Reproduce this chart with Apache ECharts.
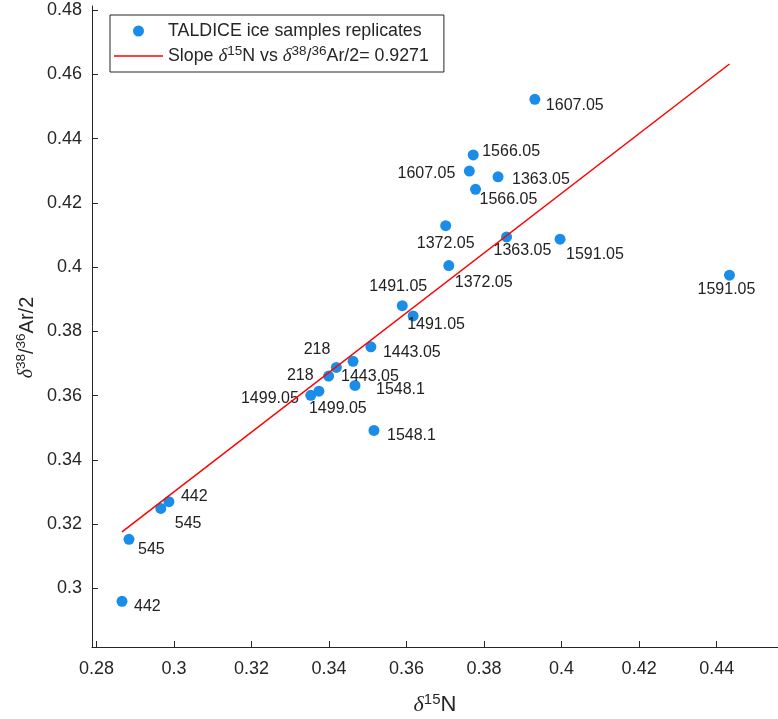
<!DOCTYPE html>
<html>
<head>
<meta charset="utf-8">
<style>
  html, body { margin: 0; padding: 0; background: #fff; }
  #chart { width: 778px; height: 719px; }
</style>
<script src="https://cdn.jsdelivr.net/npm/echarts@6/dist/echarts.min.js"></script>
</head>
<body>
<div id="chart"></div>
<script>
// ---- data ----
const sampleNames = ['1607.05','1566.05','1607.05','1363.05','1566.05','1372.05','1363.05','1591.05',
  '1372.05','1591.05','1491.05','1491.05','1443.05','1443.05','218','218','1548.1','1499.05',
  '1499.05','1548.1','442','545','545','442'];
const d15N = [0.3931,0.3772,0.3762,0.3836,0.3778,0.3701,0.3858,0.3996,
  0.3709,0.4433,0.3589,0.3617,0.3508,0.3462,0.3419,0.3399,0.3467,0.3374,
  0.3353,0.3516,0.2987,0.2966,0.2884,0.2866];
const d38Ar = [0.4522,0.4349,0.4299,0.4281,0.4242,0.4129,0.4094,0.4087,
  0.4005,0.3975,0.3880,0.3848,0.3752,0.3707,0.3688,0.3661,0.3632,0.3614,
  0.3601,0.3492,0.3270,0.3249,0.3153,0.2960];
const fitX = [0.2866, 0.4433];
const fitY = [0.3176, 0.4632];
const xTicks = [0.28,0.30,0.32,0.34,0.36,0.38,0.40,0.42,0.44];
const yTicks = [0.30,0.32,0.34,0.36,0.38,0.40,0.42,0.44,0.46,0.48];

// ---- label layout (offset from point, px; alignment) ----
const labelLayout = [
  [11,6,'left'],[9,-3,'left'],[-14,3,'right'],[14,3,'left'],[4,10,'left'],[0,18,'center'],
  [-13,14,'left'],[6,15,'left'],[6,17,'left'],[-3,14,'center'],[-4,-19,'center'],[-6,9,'left'],
  [12,6,'left'],[-12,15,'left'],[-6,-18,'right'],[-15,0,'right'],[21,4,'left'],[-10,17,'left'],
  [-12,3,'right'],[13,5,'left'],[12,-5,'left'],[14,15,'left'],[9,10,'left'],[12,5,'left']
];

const INK = '#262626';
const FONT = '"Liberation Sans", Arial, Helvetica, sans-serif';
const SERIF = '"Liberation Serif", "DejaVu Serif", serif';
const fmt = v => String(+(+v).toFixed(2));

const scatterData = d15N.map((x, i) => ({
  value: [x, d38Ar[i]],
  name: sampleNames[i],
  label: {
    show: true,
    position: 'inside',
    offset: [labelLayout[i][0], labelLayout[i][1]],
    align: labelLayout[i][2],
    verticalAlign: 'middle',
    formatter: sampleNames[i]
  }
}));

const xNameRich = {
  d: { fontFamily: SERIF, fontStyle: 'italic', fontSize: 22, color: INK, lineHeight: 26 },
  s: { fontFamily: FONT, fontSize: 15, color: INK, verticalAlign: 'top', lineHeight: 14 },
  n: { fontFamily: FONT, fontSize: 22, color: INK, lineHeight: 26 }
};
const yNameRich = {
  d: { fontFamily: SERIF, fontStyle: 'italic', fontSize: 20, color: INK, lineHeight: 26 },
  s: { fontFamily: FONT, fontSize: 13.5, color: INK, verticalAlign: 'top', lineHeight: 14 },
  n: { fontFamily: FONT, fontSize: 20, color: INK, lineHeight: 26 }
};

const chart = echarts.init(document.getElementById('chart'), null, { renderer: 'canvas' });
chart.setOption({
  animation: false,
  backgroundColor: '#fff',
  textStyle: { fontFamily: FONT },
  grid: { left: 92, top: 6, right: 0, bottom: 72, containLabel: false, outerBoundsMode: 'none' },
  legend: {
    orient: 'vertical',
    left: 110, top: 15,
    padding: [4, 15, 4, 4],
    itemGap: 1,
    itemWidth: 49,
    itemHeight: 11,
    borderColor: INK, borderWidth: 1,
    backgroundColor: '#fff',
    data: [
      { name: 'TALDICE ice samples replicates', icon: 'circle' },
      { name: 'slope', icon: 'path://M0,0 L49,0 L49,1.4 L0,1.4 Z' }
    ],
    formatter: function (name) {
      if (name === 'slope') {
        return 'Slope {d|δ}{s|15}N vs {d|δ}{s|38}/{s|36}Ar/2= 0.9271';
      }
      return name;
    },
    textStyle: {
      fontFamily: FONT, fontSize: 17.8, color: INK, lineHeight: 24,
      rich: {
        d: { fontFamily: SERIF, fontStyle: 'italic', fontSize: 19, color: INK, lineHeight: 24 },
        s: { fontFamily: FONT, fontSize: 13.5, color: INK, verticalAlign: 'top', lineHeight: 12 }
      }
    }
  },
  xAxis: {
    type: 'value',
    min: 0.27886, max: 0.45582,
    name: '{d|δ}{s|15}{n|N}',
    nameLocation: 'middle',
    nameGap: 45,
    nameMoveOverlap: false,
    nameTextStyle: { color: INK, fontSize: 22, lineHeight: 26, rich: xNameRich },
    axisLine: { show: true, lineStyle: { color: INK, width: 1 } },
    axisTick: { show: true, inside: true, length: 6, lineStyle: { color: INK }, customValues: xTicks },
    axisLabel: { color: INK, fontSize: 18, margin: 13, customValues: xTicks, formatter: fmt },
    splitLine: { show: false }
  },
  yAxis: {
    type: 'value',
    min: 0.28180, max: 0.48125,
    name: '{d|δ}{s|38}{n|/}{s|36}{n|Ar/2}',
    nameLocation: 'middle',
    nameGap: 52,
    nameMoveOverlap: false,
    nameTextStyle: { color: INK, fontSize: 20, lineHeight: 26, rich: yNameRich, padding: [0, 22, 0, 0] },
    axisLine: { show: true, lineStyle: { color: INK, width: 1 } },
    axisTick: { show: true, inside: true, length: 6, lineStyle: { color: INK }, customValues: yTicks },
    axisLabel: { color: INK, fontSize: 18, margin: 10, customValues: yTicks, formatter: fmt },
    splitLine: { show: false }
  },
  series: [
    {
      name: 'TALDICE ice samples replicates',
      type: 'scatter',
      z: 2,
      symbol: 'circle',
      symbolSize: 11,
      itemStyle: { color: '#1a8de8', opacity: 1 },
      label: { fontSize: 16, color: '#222', fontFamily: FONT },
      emphasis: { disabled: true },
      data: scatterData
    },
    {
      name: 'slope',
      type: 'line',
      z: 3,
      symbol: 'none',
      lineStyle: { color: '#ff0000', width: 1.5 },
      itemStyle: { color: '#ff0000' },
      emphasis: { disabled: true },
      data: fitX.map((x, i) => [x, fitY[i]])
    }
  ]
});
</script>
</body>
</html>
